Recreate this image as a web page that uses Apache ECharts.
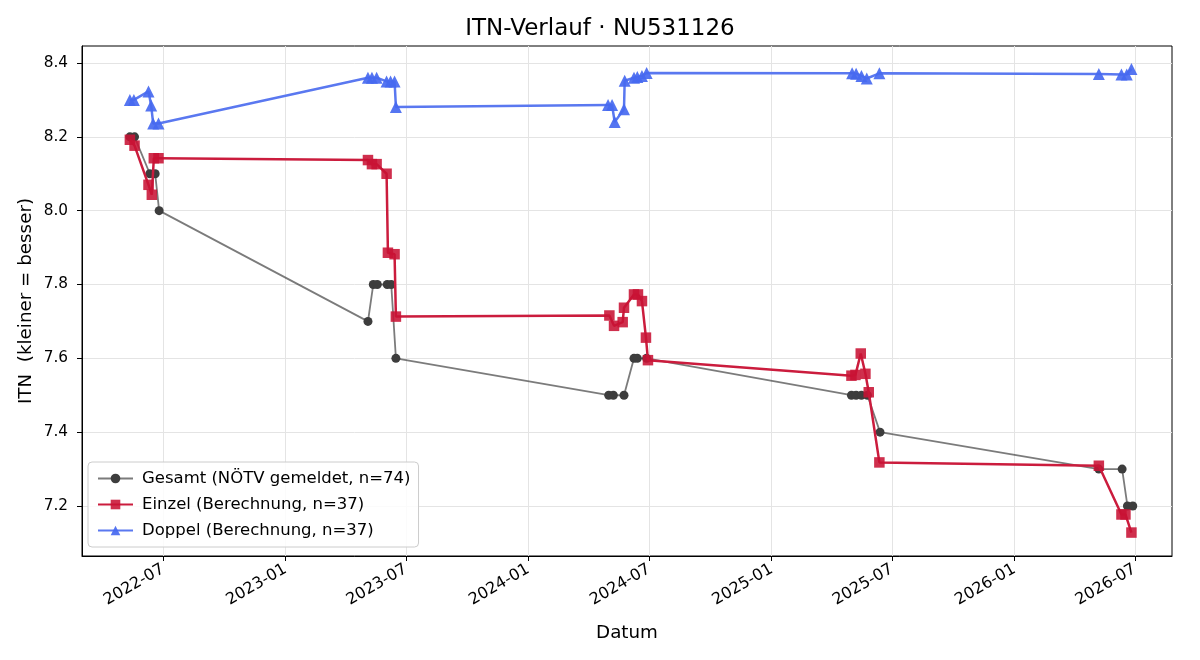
<!DOCTYPE html>
<html>
<head>
<meta charset="utf-8">
<title>ITN-Verlauf</title>
<script src="https://cdn.jsdelivr.net/npm/echarts@6/dist/echarts.min.js"></script>
<style>
html, body { margin: 0; padding: 0; background: #fff; }
#chart { width: 1200px; height: 660px; }
</style>
</head>
<body>
<div id="chart"></div>
<script>
// Gesamt (NÖTV gemeldet)
const gesamtDates = [
    '2022-05-12', '2022-05-19', '2022-06-11', '2022-06-19', '2022-06-25',
    '2023-05-05', '2023-05-13', '2023-05-19', '2023-06-03', '2023-06-09', '2023-06-16',
    '2024-05-01', '2024-05-08', '2024-05-24', '2024-06-08', '2024-06-13', '2024-06-27',
    '2025-05-01', '2025-05-08', '2025-05-16', '2025-05-25', '2025-06-13',
    '2026-05-08', '2026-06-12', '2026-06-20', '2026-06-28'
];
const gesamtValues = [
    8.2, 8.2, 8.1, 8.1, 8.0,
    7.7, 7.8, 7.8, 7.8, 7.8, 7.6,
    7.5, 7.5, 7.5, 7.6, 7.6, 7.6,
    7.5, 7.5, 7.5, 7.5, 7.4,
    7.3, 7.3, 7.2, 7.2
];

// Einzel (Berechnung)
const einzelDates = [
    '2022-05-12', '2022-05-19', '2022-06-09', '2022-06-14', '2022-06-17', '2022-06-24',
    '2023-05-05', '2023-05-11', '2023-05-18', '2023-06-02', '2023-06-04', '2023-06-14', '2023-06-16',
    '2024-05-02', '2024-05-09', '2024-05-22', '2024-05-24', '2024-06-08', '2024-06-14', '2024-06-20', '2024-06-26', '2024-06-29',
    '2025-05-01', '2025-05-07', '2025-05-15', '2025-05-22', '2025-05-27', '2025-06-12',
    '2026-05-08', '2026-06-11', '2026-06-17', '2026-06-26'
];
const einzelValues = [
    8.192, 8.176, 8.070, 8.043, 8.142, 8.142,
    8.137, 8.126, 8.126, 8.100, 7.886, 7.882, 7.713,
    7.716, 7.688, 7.698, 7.737, 7.773, 7.773, 7.755, 7.656, 7.595,
    7.553, 7.555, 7.613, 7.558, 7.508, 7.318,
    7.309, 7.177, 7.177, 7.128
];

// Doppel (Berechnung)
const doppelDates = [
    '2022-05-12', '2022-05-18', '2022-06-09', '2022-06-13', '2022-06-16', '2022-06-24',
    '2023-05-05', '2023-05-11', '2023-05-18', '2023-06-02', '2023-06-08', '2023-06-14', '2023-06-16',
    '2024-04-30', '2024-05-06', '2024-05-10', '2024-05-24', '2024-05-25', '2024-06-08', '2024-06-13', '2024-06-20', '2024-06-27',
    '2025-05-02', '2025-05-08', '2025-05-16', '2025-05-24', '2025-06-12',
    '2026-05-08', '2026-06-11', '2026-06-19', '2026-06-26'
];
const doppelValues = [
    8.300, 8.300, 8.323, 8.285, 8.236, 8.236,
    8.360, 8.360, 8.360, 8.350, 8.350, 8.350, 8.281,
    8.286, 8.286, 8.240, 8.275, 8.352, 8.360, 8.362, 8.365, 8.373,
    8.372, 8.371, 8.365, 8.358, 8.372,
    8.370, 8.369, 8.369, 8.384
];

const xTicks = ['2022-07-01', '2023-01-01', '2023-07-01', '2024-01-01', '2024-07-01',
    '2025-01-01', '2025-07-01', '2026-01-01', '2026-07-01'];
const yTicks = [7.2, 7.4, 7.6, 7.8, 8.0, 8.2, 8.4];

const FONT = "'DejaVu Sans', sans-serif";

function toTime(s) {
    const p = s.split('-');
    return new Date(+p[0], +p[1] - 1, +p[2]).getTime();
}
function pairs(dates, values) {
    return dates.map((d, i) => [toTime(d), values[i]]);
}
function fmtMonth(v) {
    const d = new Date(v);
    const m = d.getMonth() + 1;
    return d.getFullYear() + '-' + (m < 10 ? '0' + m : m);
}

const chart = echarts.init(document.getElementById('chart'));

// x is a plain value axis holding timestamps, so the half-year ticks can be given directly
const option = {
    animation: false,
    backgroundColor: '#fff',
    textStyle: { fontFamily: FONT },
    title: {
        text: 'ITN-Verlauf · NU531126',
        left: 'center',
        top: 13,
        textStyle: { fontFamily: FONT, fontSize: 23, fontWeight: 'normal', color: '#000' }
    },
    grid: {
        left: 82, right: 28, top: 46, bottom: 104,
        show: true, borderColor: '#000', borderWidth: 1,
        outerBoundsMode: 'none'
    },
    legend: {
        orient: 'vertical',
        left: 88, top: 462,
        itemWidth: 35, itemHeight: 12, itemGap: 9,
        padding: [8, 8, 8, 9],
        backgroundColor: 'rgba(255,255,255,0.85)',
        borderColor: '#cccccc', borderWidth: 1, borderRadius: 4,
        textStyle: { fontFamily: FONT, fontSize: 16.5, color: '#000', padding: [0, 0, 0, 4] },
        data: ['Gesamt (NÖTV gemeldet, n=74)', 'Einzel (Berechnung, n=37)', 'Doppel (Berechnung, n=37)']
    },
    xAxis: {
        type: 'value',
        min: toTime('2022-03-01'),
        max: toTime('2026-08-26'),
        scale: true,
        name: 'Datum',
        nameLocation: 'middle',
        nameGap: 68,
        nameMoveOverlap: false,
        nameTextStyle: { fontFamily: FONT, fontSize: 18.3, color: '#000' },
        axisLine: { show: true, onZero: false, lineStyle: { color: '#000', width: 1 } },
        axisTick: { show: true, length: 5, lineStyle: { color: '#000' }, customValues: xTicks.map(toTime) },
        axisLabel: {
            customValues: xTicks.map(toTime),
            formatter: fmtMonth,
            rotate: 30,
            margin: 12,
            fontFamily: FONT, fontSize: 16, color: '#000'
        },
        splitLine: { show: true, lineStyle: { color: '#e4e4e4', width: 1 } }
    },
    yAxis: {
        type: 'value',
        min: 7.0645,
        max: 8.446,
        scale: true,
        name: 'ITN  (kleiner = besser)',
        nameLocation: 'middle',
        nameGap: 47,
        nameMoveOverlap: false,
        nameTextStyle: { fontFamily: FONT, fontSize: 18.3, color: '#000' },
        axisLine: { show: true, onZero: false, lineStyle: { color: '#000', width: 1 } },
        axisTick: { show: true, length: 5, lineStyle: { color: '#000' }, customValues: yTicks },
        axisLabel: {
            customValues: yTicks,
            formatter: (v) => v.toFixed(1),
            margin: 14,
            fontFamily: FONT, fontSize: 15.3, color: '#000'
        },
        splitLine: { show: true, lineStyle: { color: '#e4e4e4', width: 1 } }
    },
    series: [
        {
            name: 'Gesamt (NÖTV gemeldet, n=74)',
            type: 'line',
            data: pairs(gesamtDates, gesamtValues),
            symbol: 'circle',
            symbolSize: 9,
            showAllSymbol: true,
            lineStyle: { color: 'rgba(60,60,60,0.68)', width: 1.8 },
            itemStyle: { color: '#3d3d3d', borderWidth: 0 },
            z: 2
        },
        {
            name: 'Einzel (Berechnung, n=37)',
            type: 'line',
            data: pairs(einzelDates, einzelValues),
            symbol: 'rect',
            symbolSize: 10.5,
            showAllSymbol: true,
            lineStyle: { color: '#cb1c3d', width: 2.5 },
            itemStyle: { color: 'rgba(200,18,52,0.88)', borderWidth: 0 },
            z: 3
        },
        {
            name: 'Doppel (Berechnung, n=37)',
            type: 'line',
            data: pairs(doppelDates, doppelValues),
            symbol: 'triangle',
            symbolSize: 12,
            showAllSymbol: true,
            lineStyle: { color: '#5a78f0', width: 2.5 },
            itemStyle: { color: 'rgba(70,105,240,0.92)', borderWidth: 0 },
            z: 4
        }
    ]
};

chart.setOption(option);
</script>
</body>
</html>
